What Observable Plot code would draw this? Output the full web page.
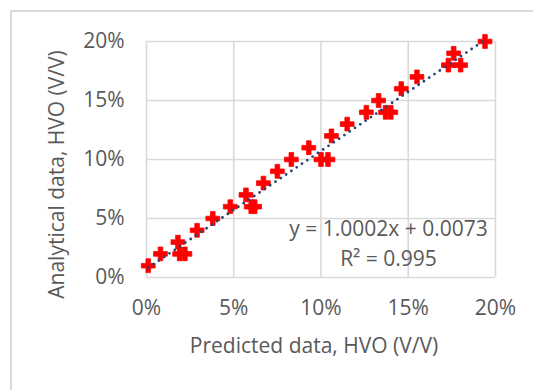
<!DOCTYPE html>
<html>
<head>
<meta charset="utf-8">
<script src="https://cdn.jsdelivr.net/npm/d3@7"></script>
<script src="https://cdn.jsdelivr.net/npm/@observablehq/plot@0.6"></script>
<style>
  html, body { margin: 0; padding: 0; background: #fff; overflow: hidden; width: 533px; height: 390px; }
  #frame { position: absolute; left: 10px; top: 10px; width: 700px; height: 600px;
           border-left: 2px solid #d9d9d9; border-top: 2px solid #d9d9d9; }
  #chart { position: absolute; left: 0; top: 0; }
</style>
</head>
<body>
<div id="frame"></div>
<div id="chart"></div>
<script>
// Data (fractions, shown as %)
const predicted = [0.001, 0.008, 0.018, 0.019, 0.022, 0.029, 0.038, 0.048, 0.057, 0.060, 0.062,
                   0.067, 0.075, 0.083, 0.093, 0.100, 0.104, 0.106, 0.115, 0.126, 0.133, 0.137,
                   0.140, 0.146, 0.155, 0.173, 0.176, 0.180, 0.194];
const analytical = [0.01, 0.02, 0.03, 0.02, 0.02, 0.04, 0.05, 0.06, 0.07, 0.06, 0.06,
                    0.08, 0.09, 0.10, 0.11, 0.10, 0.10, 0.12, 0.13, 0.14, 0.15, 0.14,
                    0.14, 0.16, 0.17, 0.18, 0.19, 0.18, 0.20];
const slope = 1.0002;
const intercept = 0.0073;
const rSquared = 0.995;
const xTicks = [0, 0.05, 0.10, 0.15, 0.20];
const yTicks = [0, 0.05, 0.10, 0.15, 0.20];
const xLabel = "Predicted data, HVO (V/V)";
const yLabel = "Analytical data, HVO (V/V)";

const points = predicted.map((x, i) => ({x, y: analytical[i]}));
const xExtent = d3.extent(predicted);
const trend = xExtent.map(x => ({x, y: slope * x + intercept}));
const eqText = `y = ${slope.toFixed(4)}x + ${intercept.toFixed(4)}\nR² = ${rSquared}`;

const font = "'Open Sans', sans-serif";
const fs = 21;
const pct = d3.format(".0%");

const plot = Plot.plot({
  width: 533,
  height: 390,
  marginLeft: 146,
  marginRight: 38,
  marginTop: 41,
  marginBottom: 113,
  style: {fontFamily: font, fontSize: fs + "px", color: "#595959", background: "transparent"},
  x: {domain: [0, 0.2]},
  y: {domain: [0, 0.2]},
  marks: [
    Plot.gridX(xTicks, {stroke: "#d9d9d9", strokeOpacity: 1, strokeWidth: 1.6}),
    Plot.gridY(yTicks, {stroke: "#d9d9d9", strokeOpacity: 1, strokeWidth: 1.6}),
    Plot.axisX(xTicks, {tickSize: 0, tickPadding: 23, tickFormat: pct, label: null, fill: "#595959", fontSize: fs}),
    Plot.axisY(yTicks, {tickSize: 0, tickPadding: 22, tickFormat: pct, label: null, fill: "#595959", fontSize: fs}),
    Plot.dot(points, {x: "x", y: "y", symbol: "cross", r: 5.8, fill: "#ff0000", stroke: "#ff0000", strokeWidth: 0.8}),
    Plot.line(trend, {x: "x", y: "y", stroke: "#264478", strokeWidth: 2.8,
                      strokeDasharray: "0 6.4", strokeLinecap: "round"}),
    Plot.text([eqText], {frameAnchor: "bottom-right", textAnchor: "middle", lineAnchor: "middle",
                         lineHeight: 30 / fs, dx: -107, dy: -36, fill: "#595959", fontSize: fs}),
    Plot.text([xLabel], {frameAnchor: "bottom", textAnchor: "middle", lineAnchor: "middle", dx: -7, dy: 69,
                         fill: "#595959", fontSize: fs}),
    Plot.text([yLabel], {frameAnchor: "left", textAnchor: "middle", lineAnchor: "middle", rotate: -90,
                         dx: -89, dy: 15, fill: "#595959", fontSize: fs})
  ]
});
document.getElementById("chart").appendChild(plot);
</script>
</body>
</html>
